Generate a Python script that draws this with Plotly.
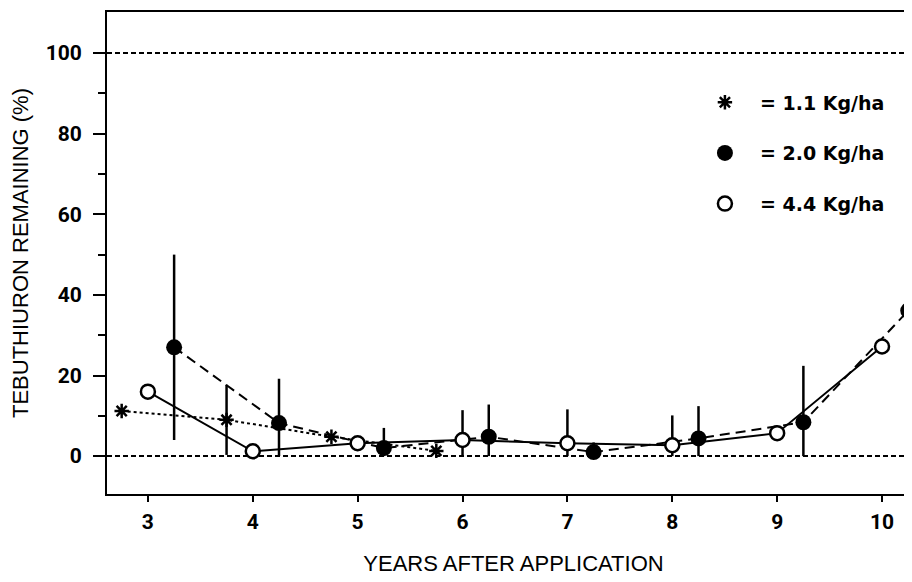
import plotly.graph_objects as go

# ---- data ----
years_1_1 = [2.75, 3.75, 4.75, 5.75]
rem_1_1 = [11.2, 9.0, 4.8, 1.3]
err_1_1 = [0, 8.7, 0, 0]

years_2_0 = [3.25, 4.25, 5.25, 6.25, 7.25, 8.25, 9.25, 10.25]
rem_2_0 = [27.0, 8.2, 2.0, 4.8, 1.0, 4.4, 8.4, 36.1]
err_2_0 = [23.0, 11.0, 5.0, 8.0, 2.4, 8.0, 14.0, 0]

years_4_4 = [3, 4, 5, 6, 7, 8, 9, 10]
rem_4_4 = [16.0, 1.2, 3.2, 4.0, 3.2, 2.7, 5.7, 27.2]
err_4_4 = [0, 0, 0, 7.4, 8.4, 7.4, 0, 0]

labels = ["= 1.1 Kg/ha", "= 2.0 Kg/ha", "= 4.4 Kg/ha"]
x_ticks = [3, 4, 5, 6, 7, 8, 9, 10]
y_ticks = [0, 20, 40, 60, 80, 100]
ref_levels = [0, 100]

BLACK = "black"


def err_minus(vals, errs):
    return [min(e, v) for v, e in zip(vals, errs)]


fig = go.Figure()

# reference lines at 0 and 100 %
for lvl in ref_levels:
    fig.add_hline(y=lvl, line=dict(color=BLACK, width=2, dash="5px,3px"), layer="below")

err_style = dict(type="data", symmetric=False, color=BLACK, thickness=2.5, width=0)

star_marker = dict(symbol="asterisk-open", size=12, color=BLACK, line=dict(color=BLACK, width=2.5))
filled_marker = dict(symbol="circle", size=16, color=BLACK, line=dict(color=BLACK, width=0))
open_marker = dict(symbol="circle", size=14, color="white", line=dict(color=BLACK, width=2.5))

fig.add_trace(go.Scatter(
    x=years_1_1, y=rem_1_1, mode="lines+markers", showlegend=False,
    line=dict(color=BLACK, width=2, dash="dot"),
    marker=star_marker,
    error_y=dict(array=err_1_1, arrayminus=err_minus(rem_1_1, err_1_1), **err_style),
))
fig.add_trace(go.Scatter(
    x=years_4_4, y=rem_4_4, mode="lines", showlegend=False,
    line=dict(color=BLACK, width=2),
    error_y=dict(array=err_4_4, arrayminus=err_minus(rem_4_4, err_4_4), **err_style),
))
fig.add_trace(go.Scatter(
    x=years_2_0, y=rem_2_0, mode="lines+markers", showlegend=False,
    line=dict(color=BLACK, width=2, dash="10px,6px"),
    marker=filled_marker,
    error_y=dict(array=err_2_0, arrayminus=err_minus(rem_2_0, err_2_0), **err_style),
))
fig.add_trace(go.Scatter(
    x=years_4_4, y=rem_4_4, mode="markers", showlegend=False,
    marker=open_marker,
))

# legend-only entries (marker + "= dose")
for i, (lab, mk) in enumerate(zip(labels, [star_marker, filled_marker, open_marker])):
    fig.add_trace(go.Scatter(
        x=[None], y=[None], mode="markers", name=lab, marker=mk,
        legendgroup=f"g{i}", showlegend=True,
    ))

tick_font = dict(family="Roboto, DejaVu Sans, sans-serif", size=21, color=BLACK, weight="bold")
title_font = dict(family="Liberation Sans, Arial, sans-serif", size=22, color=BLACK)

fig.update_layout(
    template="none",
    width=912, height=582,
    margin=dict(l=99, r=0, t=4, b=96, pad=0),
    paper_bgcolor="white", plot_bgcolor="white",
    showlegend=True,
    legend=dict(
        x=0.717, y=0.852, xanchor="left", yanchor="top",
        bgcolor="rgba(0,0,0,0)", borderwidth=0,
        font=dict(family="DejaVu Sans, sans-serif", size=19, color=BLACK, weight="bold"),
        tracegroupgap=23, itemwidth=60,
    ),
    xaxis=dict(
        range=[2.61, 10.362], tickvals=x_ticks, ticktext=[str(v) for v in x_ticks],
        showgrid=False, zeroline=False, automargin=False,
        showline=True, linecolor=BLACK, linewidth=2, mirror=True,
        ticks="outside", ticklen=6, tickwidth=2, tickcolor=BLACK,
        ticklabelstandoff=2,
        tickfont=tick_font,
        title=dict(text="YEARS AFTER APPLICATION", standoff=22, font=title_font),
    ),
    yaxis=dict(
        range=[-9.4, 110.2], tickvals=y_ticks, ticktext=[str(v) for v in y_ticks],
        showgrid=False, zeroline=False, automargin=False,
        showline=True, linecolor=BLACK, linewidth=2,
        ticks="outside", ticklen=12, tickwidth=2, tickcolor=BLACK,
        ticklabelstandoff=7,
        minor=dict(tickvals=[10, 30, 50, 70, 90], ticks="outside", ticklen=7,
                   tickwidth=2, tickcolor=BLACK),
        tickfont=tick_font,
        title=dict(text="TEBUTHIURON REMAINING (%)", standoff=14, font=title_font),
    ),
)

fig.write_html("out.html")
